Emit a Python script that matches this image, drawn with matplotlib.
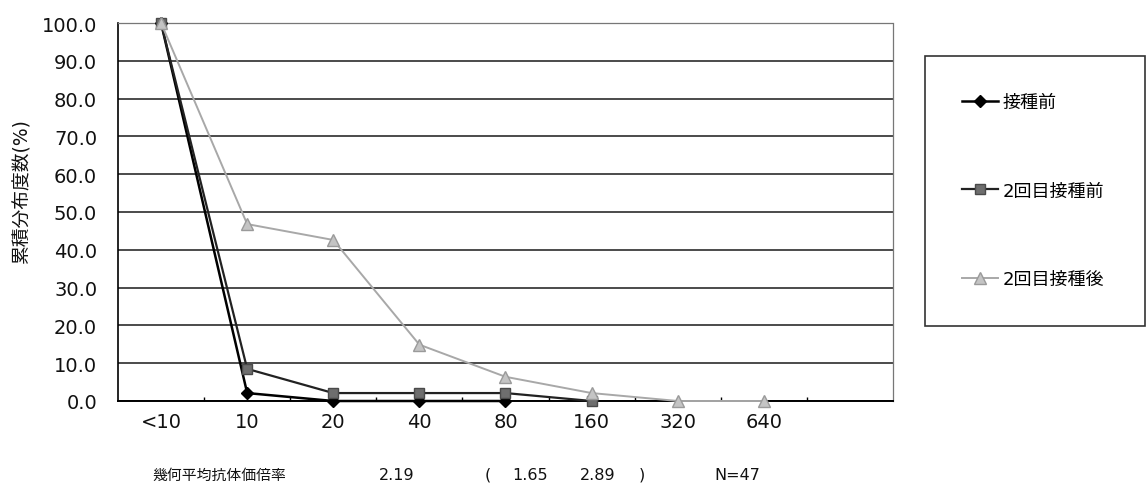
import numpy as np
import matplotlib
matplotlib.use("Agg")
import matplotlib.pyplot as plt
from matplotlib.ticker import FixedLocator, FormatStrFormatter

plt.rcParams['font.family'] = ['DejaVu Sans', 'Noto Sans CJK JP']

categories = ['<10', '10', '20', '40', '80', '160', '320', '640', '']
series_names = ['接種前', '2回目接種前', '2回目接種後']
pre_vacc = [100.0, 2.1, 0.0, 0.0, 0.0, np.nan, np.nan, np.nan, np.nan]
pre_second = [100.0, 8.5, 2.1, 2.1, 2.1, 0.0, np.nan, np.nan, np.nan]
post_second = [100.0, 46.8, 42.6, 14.9, 6.4, 2.1, 0.0, 0.0, np.nan]
y_label = '累積分布度数(%)'
foot_title = '幾何平均抗体価倍率'
foot_gmt = '2.19'
foot_ci_low = '1.65'
foot_ci_high = '2.89'
foot_n = 'N=47'

W, H = 1148, 502
fig = plt.figure(figsize=(W / 100, H / 100), dpi=100)
ax = fig.add_axes([118 / W, 1 - 402 / H, 775 / W, 378 / H])

x = np.arange(len(categories))

styles = [
    dict(color='#000000', marker='D', markersize=6.5, markerfacecolor='#000000',
         markeredgecolor='#000000', linewidth=1.8),
    dict(color='#222222', marker='s', markersize=7, markerfacecolor='#6e6e6e',
         markeredgecolor='#4a4a4a', linewidth=1.6),
    dict(color='#a8a8a8', marker='^', markersize=8.5, markerfacecolor='#c4c4c4',
         markeredgecolor='#9a9a9a', linewidth=1.4),
]
handles = []
for vals, name, st in zip([pre_vacc, pre_second, post_second], series_names, styles):
    h, = ax.plot(x, vals, label=name, clip_on=False, zorder=3, **st)
    handles.append(h)

ax.set_xlim(-0.5, len(categories) - 0.5)
ax.set_ylim(0, 100)
ax.set_yticks(np.arange(0, 101, 10))
ax.yaxis.set_major_formatter(FormatStrFormatter('%.1f'))
ax.set_xticks(x)
ax.set_xticklabels(categories)
ax.xaxis.set_minor_locator(FixedLocator(np.arange(0.5, len(categories) - 1, 1.0)))

ax.tick_params(axis='y', length=0, pad=15, labelsize=14, colors='#111111')
ax.tick_params(axis='x', which='major', length=0, pad=8, labelsize=14, colors='#111111')
ax.tick_params(axis='x', which='minor', direction='in', length=3, width=1, color='#000000')

ax.grid(axis='y', color='#1a1a1a', linewidth=1.1, zorder=1)
ax.set_axisbelow(True)
ax.spines['left'].set_color('#000000')
ax.spines['left'].set_linewidth(1.2)
ax.spines['bottom'].set_color('#000000')
ax.spines['bottom'].set_linewidth(1.4)
for s in ['top', 'right']:
    ax.spines[s].set_color('#777777')
    ax.spines[s].set_linestyle((0, (1, 1)))
    ax.spines[s].set_linewidth(0.9)

fig.text(22 / W, 1 - 192 / H, y_label, rotation=90, ha='center', va='center',
         fontsize=13.5, color='#111111')

leg = fig.legend(handles=handles, loc='upper left',
                 bbox_to_anchor=(925 / W, 1 - 326 / H, 220 / W, 269 / H),
                 mode='expand', frameon=True, fancybox=False, fontsize=13,
                 labelspacing=3.9, borderpad=2.07, handlelength=2.0,
                 handletextpad=0.22, borderaxespad=0)
leg.get_frame().set_edgecolor('#000000')
leg.get_frame().set_linewidth(1.2)

fy = 1 - 475 / H
fig.text(152 / W, fy, foot_title, ha='left', va='center', fontsize=10.7, color='#111111')
fig.text(397 / W, fy, foot_gmt, ha='center', va='center', fontsize=11.5, color='#111111')
fig.text(488 / W, fy, '(', ha='center', va='center', fontsize=11.5, color='#111111')
fig.text(530 / W, fy, foot_ci_low, ha='center', va='center', fontsize=11.5, color='#111111')
fig.text(598 / W, fy, foot_ci_high, ha='center', va='center', fontsize=11.5, color='#111111')
fig.text(642 / W, fy, ')', ha='center', va='center', fontsize=11.5, color='#111111')
fig.text(737 / W, fy, foot_n, ha='center', va='center', fontsize=11.5, color='#111111')

fig.savefig('out.png', dpi=100)
